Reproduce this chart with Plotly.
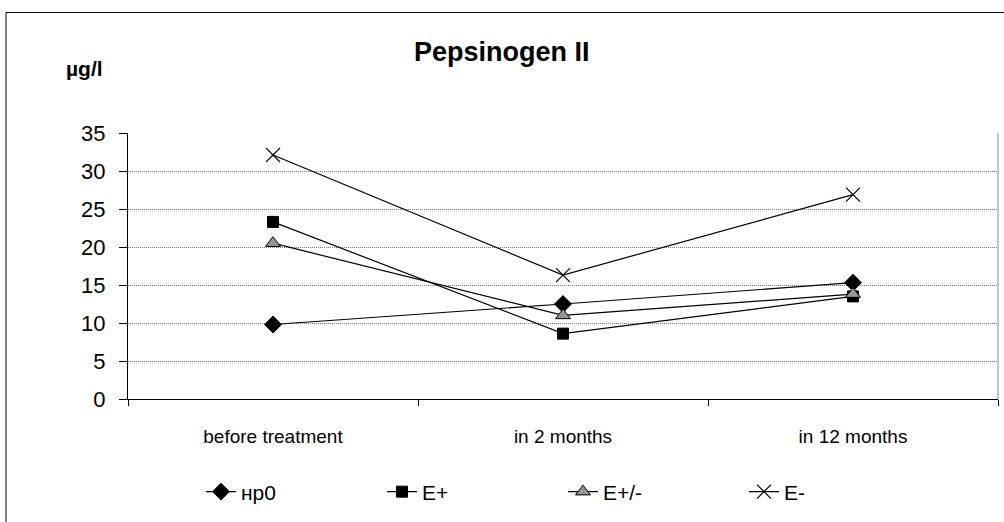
import plotly.graph_objects as go

# Pepsinogen II levels (µg/l) per follow-up point
periods = ["before treatment", "in 2 months", "in 12 months"]
hp0 = [9.8, 12.5, 15.3]
e_plus = [23.3, 8.6, 13.5]
e_plus_minus = [20.5, 11.0, 13.8]
e_minus = [32.1, 16.3, 26.9]
y_ticks = [0, 5, 10, 15, 20, 25, 30, 35]

W, H = 1004, 522
L, R, T, B = 128, 6, 133, 123
PW, PH = W - L - R, H - T - B
FONT = "Arial, Liberation Sans, sans-serif"


def px(x):
    return (x - L) / PW


def py(y):
    return (H - B - y) / PH


series = [
    ("нр0", hp0, dict(symbol="diamond", size=13, color="black",
                      line=dict(color="black", width=1))),
    ("E+", e_plus, dict(symbol="square", size=11, color="black",
                        line=dict(color="black", width=1))),
    ("E+/-", e_plus_minus, dict(symbol="triangle-up", size=13, color="#969696",
                                line=dict(color="black", width=1))),
    ("E-", e_minus, dict(symbol="x-thin-open", size=14, color="black",
                         line=dict(color="black", width=1.2))),
]

fig = go.Figure()
for name, vals, marker in series:
    fig.add_trace(go.Scatter(
        x=periods, y=vals, name=name, mode="lines+markers",
        line=dict(color="black", width=1.2), marker=marker,
    ))

fig.update_layout(
    width=W, height=H,
    margin=dict(l=L, r=R, t=T, b=B, pad=0),
    paper_bgcolor="white", plot_bgcolor="white",
    font=dict(family=FONT, color="black"),
    showlegend=True,
    legend=dict(
        orientation="h", x=px(201), xanchor="left", y=py(492), yanchor="middle",
        font=dict(size=21, family=FONT), entrywidth=136, entrywidthmode="pixels",
        itemwidth=30, bgcolor="rgba(0,0,0,0)", tracegroupgap=0,
    ),
    xaxis=dict(
        type="category", range=[-0.5, 2.5], showgrid=False,
        showline=True, linecolor="black", linewidth=1,
        ticks="outside", tickson="boundaries", ticklen=6, tickcolor="black",
        tickfont=dict(size=19, family=FONT), ticklabelstandoff=20,
        zeroline=False,
    ),
    yaxis=dict(
        range=[0, 35], tickvals=y_ticks, showgrid=True,
        gridcolor="#7a7a7a", griddash="1px,1px", gridwidth=1,
        showline=True, linecolor="black", linewidth=1,
        ticks="outside", ticklen=8, tickcolor="black",
        tickfont=dict(size=22, family=FONT), zeroline=False,
        ticklabelstandoff=9,
    ),
    shapes=[
        # outer chart frame
        dict(type="rect", xref="paper", yref="paper",
             x0=px(6), x1=px(1012), y0=py(530), y1=py(12.5),
             line=dict(color="black", width=1), layer="below"),
        # right edge of the plot area
        dict(type="line", xref="paper", yref="paper", x0=1, x1=1, y0=0, y1=1,
             line=dict(color="#8c8c8c", width=1)),
    ],
    annotations=[
        dict(text="<b>Pepsinogen II</b>", xref="paper", yref="paper",
             x=px(502), y=py(52), xanchor="center", yanchor="middle",
             showarrow=False, font=dict(size=27, family=FONT)),
        dict(text="<b>µg/l</b>", xref="paper", yref="paper",
             x=px(84), y=py(68), xanchor="center", yanchor="middle",
             showarrow=False, font=dict(size=21, family=FONT)),
    ],
)

fig.write_html("out.html")
